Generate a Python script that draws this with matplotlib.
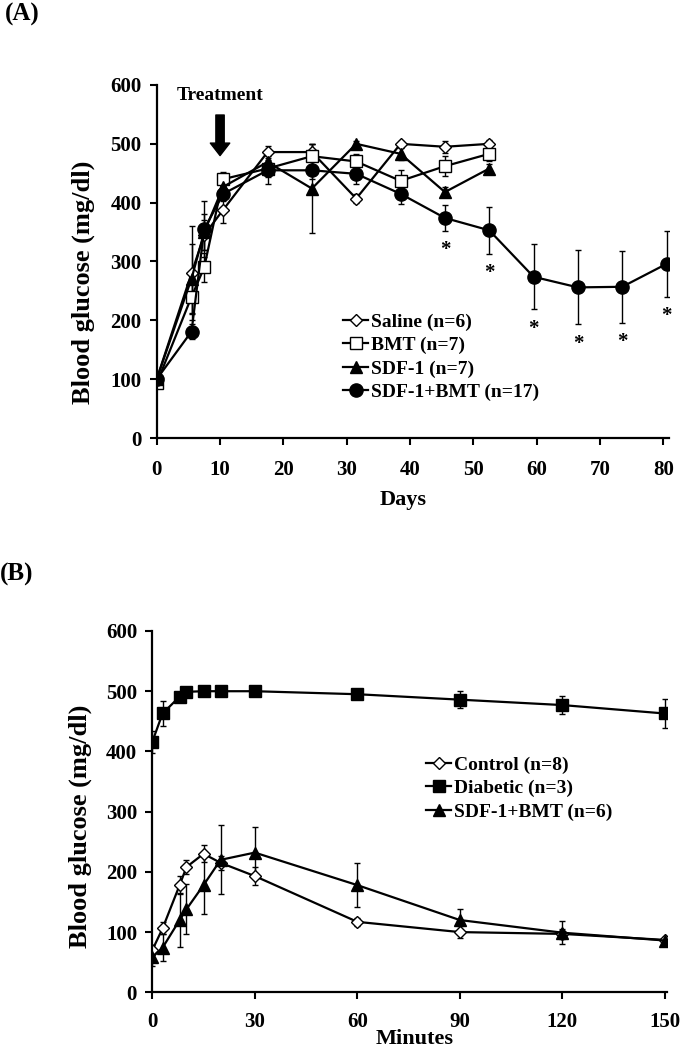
import numpy as np
import matplotlib
matplotlib.use("Agg")
import matplotlib.pyplot as plt

plt.rcParams['font.family'] = ['Liberation Serif', 'DejaVu Serif']
plt.rcParams['font.weight'] = 'bold'

# Panel A data (days after diabetes induction)
days = [0, 5.5, 7.5, 10.5, 17.5, 24.5, 31.5, 38.5, 45.5, 52.5]
days_long = [0, 5.5, 7.5, 10.5, 17.5, 24.5, 31.5, 38.5, 45.5, 52.5, 59.5, 66.5, 73.5, 80.5]
saline = [100, 280, 345, 388, 486, 486, 407, 500, 495, 500]
saline_err = [5, 80, 25, 22, 10, 14, 8, 5, 10, 6]
bmt = [93, 240, 290, 440, 458, 479, 470, 437, 462, 483]
bmt_err = [5, 30, 25, 12, 15, 20, 12, 18, 17, 12]
sdf1 = [100, 271, 350, 427, 469, 424, 500, 483, 418, 458]
sdf1_err = [5, 58, 30, 15, 15, 76, 5, 10, 8, 8]
sdf1_bmt = [100, 181, 355, 415, 455, 455, 449, 415, 374, 353, 274, 256, 257, 296]
sdf1_bmt_err = [5, 13, 47, 12, 24, 15, 17, 18, 22, 40, 55, 63, 61, 56]
star_days = [45.5, 52.5, 59.5, 66.5, 73.5, 80.5]
labels_a = ['Saline (n=6)', 'BMT (n=7)', 'SDF-1 (n=7)', 'SDF-1+BMT (n=17)']

# Panel B data (glucose tolerance test)
minutes = [0, 3, 8, 10, 15, 20, 30, 60, 90, 120, 150]
control = [70, 106, 178, 208, 230, 215, 193, 117, 100, 97, 87]
control_err = [8, 10, 15, 12, 14, 12, 15, 7, 10, 8, 4]
diabetic = [416, 463, 491, 499, 500, 500, 500, 495, 486, 477, 463]
diabetic_err = [18, 21, 5, 3, 3, 3, 3, 5, 14, 15, 24]
combo_b = [58, 74, 120, 138, 178, 220, 232, 178, 120, 99, 86]
combo_b_err = [15, 22, 45, 42, 48, 57, 43, 37, 18, 19, 6]
labels_b = ['Control (n=8)', 'Diabetic (n=3)', 'SDF-1+BMT (n=6)']

fig = plt.figure(figsize=(6.8, 10.5), dpi=100)
W, H = 680.0, 1050.0

def axes_px(x0, x1, ytop, ybot):
    return fig.add_axes([x0 / W, 1 - ybot / H, (x1 - x0) / W, (ybot - ytop) / H])

def style_axes(ax, xpad):
    for s in ['top', 'right']:
        ax.spines[s].set_visible(False)
    for s in ['left', 'bottom']:
        ax.spines[s].set_linewidth(1.6)
    ax.tick_params(direction='out', length=5, width=1.5, labelsize=15)
    ax.tick_params(axis='y', pad=6)
    ax.tick_params(axis='x', pad=xpad)
    for lab in ax.get_xticklabels() + ax.get_yticklabels():
        lab.set_fontweight('bold')

def series(ax, x, y, err, marker, face, ms):
    c = ax.errorbar(x, y, yerr=err, color='black', lw=1.6, marker=marker, ms=ms,
                    mfc=face, mec='black', mew=1.0, ecolor='black', elinewidth=1.0,
                    capsize=2.5, capthick=1.0)
    # only the line+marker goes in the legend
    return c.lines[0]

def add_legend(ax, handles, labels, x, y):
    leg = ax.legend(handles, labels, loc='upper left', bbox_to_anchor=(x / W, 1 - y / H),
                    bbox_transform=fig.transFigure, frameon=False, fontsize=14,
                    handlelength=1.3, handletextpad=0.15, labelspacing=0.3,
                    borderpad=0, borderaxespad=0)
    for t in leg.get_texts():
        t.set_fontweight('bold')

# ---- Panel A ----
axA = axes_px(156.7, 668.5, 85, 438)
hA = [series(axA, days, saline, saline_err, 'D', 'white', 6),
      series(axA, days, bmt, bmt_err, 's', 'white', 8.5),
      series(axA, days, sdf1, sdf1_err, '^', 'black', 9),
      series(axA, days_long, sdf1_bmt, sdf1_bmt_err, 'o', 'black', 9.5)]

axA.set_xlim(0, 80.8)
axA.set_ylim(0, 600)
axA.set_xticks(np.arange(0, 81, 10))
axA.set_yticks(np.arange(0, 601, 100))
style_axes(axA, 11)

for d in star_days:
    i = days_long.index(d)
    axA.text(d, sdf1_bmt[i] - sdf1_bmt_err[i] - 33, '*', ha='center', va='center',
             fontsize=15, fontweight='bold')

axA.text(10, 582, 'Treatment', ha='center', va='center', fontsize=14, fontweight='bold')
axA.annotate('', xy=(10, 480), xytext=(10, 549),
             arrowprops=dict(facecolor='black', edgecolor='black', width=6,
                             headwidth=14, headlength=9))

axA.set_ylabel('Blood glucose (mg/dl)', fontsize=19, fontweight='bold', va='center')
axA.yaxis.set_label_coords(-0.144, 0.44)
axA.set_xlabel('Days', fontsize=16, fontweight='bold', va='center')
axA.xaxis.set_label_coords(0.482, -0.176)

add_legend(axA, hA, labels_a, 343, 313)

fig.text(22 / W, 1 - 14 / H, '(A)', ha='center', va='center', fontsize=18, fontweight='bold')

# ---- Panel B ----
axB = axes_px(152.3, 666.5, 631, 992.3)
hB = [series(axB, minutes, control, control_err, 'D', 'white', 6),
      series(axB, minutes, diabetic, diabetic_err, 's', 'black', 9),
      series(axB, minutes, combo_b, combo_b_err, '^', 'black', 9)]

axB.set_xlim(0, 150.5)
axB.set_ylim(0, 600)
axB.set_xticks(np.arange(0, 151, 30))
axB.set_yticks(np.arange(0, 601, 100))
style_axes(axB, 9)

axB.set_ylabel('Blood glucose (mg/dl)', fontsize=19, fontweight='bold', va='center')
axB.yaxis.set_label_coords(-0.141, 0.46)
axB.set_xlabel('Minutes', fontsize=16, fontweight='bold', va='center')
axB.xaxis.set_label_coords(0.51, -0.13)

add_legend(axB, hB, labels_b, 426, 756)

fig.text(17 / W, 1 - 574 / H, '(B)', ha='center', va='center', fontsize=18, fontweight='bold')

fig.savefig('out.png', dpi=100)
